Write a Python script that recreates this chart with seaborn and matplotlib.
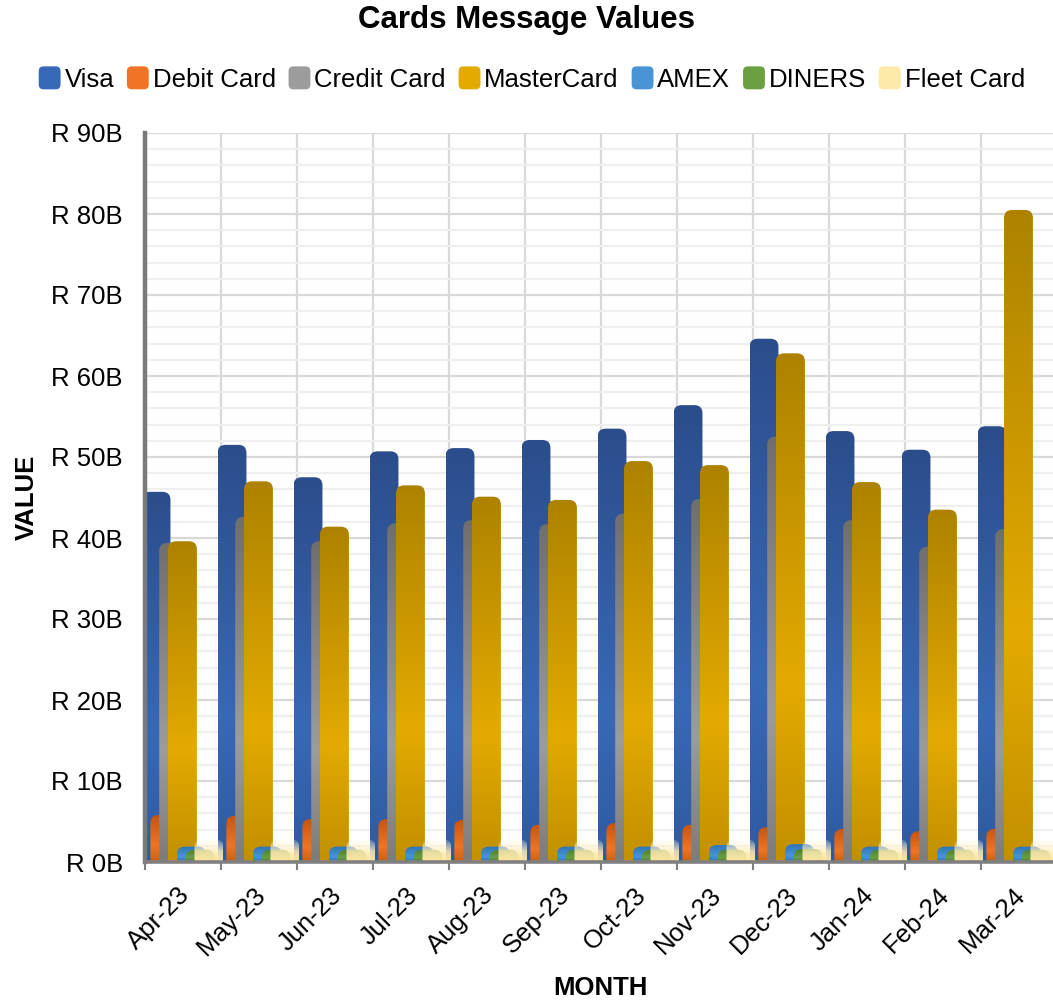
import numpy as np
import matplotlib
matplotlib.use("Agg")
import matplotlib.pyplot as plt
import matplotlib.transforms as mtransforms
import seaborn as sns
from matplotlib.patches import FancyBboxPatch, Patch
from matplotlib.colors import LinearSegmentedColormap
from matplotlib.legend_handler import HandlerPatch
from matplotlib.ticker import MultipleLocator

# data (billions of rand)
months = ["Apr-23", "May-23", "Jun-23", "Jul-23", "Aug-23", "Sep-23",
          "Oct-23", "Nov-23", "Dec-23", "Jan-24", "Feb-24", "Mar-24"]
visa = [45.7, 51.5, 47.5, 50.7, 51.1, 52.1, 53.5, 56.4, 64.6, 53.2, 50.9, 53.8]
debit = [5.8, 5.7, 5.3, 5.3, 5.2, 4.6, 4.8, 4.6, 4.3, 4.1, 3.8, 4.1]
credit = [39.4, 42.6, 39.6, 41.8, 42.2, 41.7, 43.0, 44.8, 52.5, 42.2, 38.9, 41.1]
mastercard = [39.6, 47.0, 41.4, 46.5, 45.1, 44.7, 49.5, 49.0, 62.8, 46.9, 43.5, 80.5]
amex = [1.9, 1.9, 1.9, 1.9, 1.9, 1.9, 1.9, 2.1, 2.2, 1.9, 1.9, 1.9]
diners = [1.5, 1.5, 1.5, 1.5, 1.5, 1.5, 1.5, 1.5, 1.6, 1.5, 1.5, 1.5]
fleet = [2.8, 2.8, 2.8, 2.8, 2.8, 2.8, 2.8, 2.8, 2.8, 2.8, 2.8, 2.8]
y_ticks = [0, 10, 20, 30, 40, 50, 60, 70, 80, 90]
y_labels = ["R 0B", "R 10B", "R 20B", "R 30B", "R 40B",
            "R 50B", "R 60B", "R 70B", "R 80B", "R 90B"]

series = [
    ("Visa", visa, ["#2f5aa3", "#3868b8", "#2c4d8b"]),
    ("Debit Card", debit, ["#c9600f", "#f07424", "#c4550f"]),
    ("Credit Card", credit, ["#7c7c7c", "#9c9c9c", "#6f6f6f"]),
    ("MasterCard", mastercard, ["#c29000", "#e3aa00", "#ae8200"]),
    ("AMEX", amex, ["#2e74b5", "#4a94d6", "#2e74b5"]),
    ("DINERS", diners, ["#4e7c2f", "#6aa042", "#4e7c2f"]),
    ("Fleet Card", fleet, None),
]

sns.set_theme(style="white")
plt.rcParams["font.family"] = ["Liberation Sans", "DejaVu Sans"]
plt.rcParams.update({"text.color": "black", "axes.labelcolor": "black",
                     "xtick.color": "black", "ytick.color": "black"})

W, H = 1053, 1001
fig = plt.figure(figsize=(W / 100, H / 100), dpi=100)
ax = fig.add_axes([145 / W, 139 / H, 912 / W, 729 / H])
ax.set_xlim(-0.5, 11.5)
ax.set_ylim(0, 90)

# pixel scale of the data units
px_x = 912 / 12
px_y = 729 / 90
rx = 8 / px_x
ry = 8 / px_y

bar_w = 0.38
step = 0.116
first = -0.545 + bar_w / 2
pos = np.arange(len(months))

for j, (name, vals, cols) in enumerate(series):
    n0 = len(ax.patches)
    sns.barplot(x=pos + first + step * j, y=vals, native_scale=True,
                width=bar_w, color="#cccccc", errorbar=None, ax=ax)
    new = list(ax.patches[n0:])
    if cols is None:
        cmap = LinearSegmentedColormap.from_list(
            name, [(0, (1, 0.90, 0.60, 1.0)), (0.45, (1, 0.93, 0.72, 0.85)),
                   (1, (1, 0.98, 0.92, 0.15))])
    else:
        cmap = LinearSegmentedColormap.from_list(
            name, [(0, cols[0]), (0.35, cols[1]), (1, cols[2])])
    for p in new:
        x0, w, h = p.get_x(), p.get_width(), p.get_height()
        p.remove()
        clip = FancyBboxPatch((x0, -ry), w, h + ry,
                              boxstyle=f"round,pad=0,rounding_size={rx}",
                              mutation_aspect=ry / rx, transform=ax.transData,
                              facecolor="none", edgecolor="none")
        ax.add_patch(clip)
        im = ax.imshow(np.linspace(0, 1, 256).reshape(-1, 1), cmap=cmap,
                       origin="lower", extent=(x0, x0 + w, 0, h),
                       aspect="auto", interpolation="bilinear", zorder=3 + j)
        im.set_clip_path(clip)

ax.set_xlim(-0.5, 11.5)
ax.set_ylim(0, 90)

# grid
ax.set_yticks(y_ticks)
ax.set_yticklabels(y_labels)
ax.yaxis.set_minor_locator(MultipleLocator(2))
ax.set_xticks(np.arange(-0.5, 12, 1))
ax.set_xticklabels([])
ax.set_xticks(pos, months, minor=True)
ax.grid(which="major", axis="both", color="#d9d9d9", lw=1.6, zorder=0)
ax.grid(which="minor", axis="y", color="#efefef", lw=1.6, zorder=0)
ax.grid(which="minor", axis="x", visible=False)
ax.set_axisbelow(True)

for s in ["top", "right"]:
    ax.spines[s].set_visible(False)
ax.spines["left"].set_color("#7a7a7a")
ax.spines["left"].set_linewidth(3.2)
ax.spines["bottom"].set_color("#808080")
ax.spines["bottom"].set_linewidth(2.6)
ax.spines["left"].set_zorder(20)
ax.spines["bottom"].set_zorder(20)

ax.tick_params(axis="y", which="both", length=0, pad=16, labelsize=18.5,
               labelcolor="black")
ax.tick_params(axis="x", which="major", length=6, width=1.5, color="#808080",
               direction="out", bottom=True)
ax.tick_params(axis="x", which="minor", length=0, pad=21, labelsize=18.5,
               labelcolor="black", bottom=True)
off = mtransforms.ScaledTranslation(3 / 100, 0, fig.dpi_scale_trans)
for lab in ax.get_xticklabels(minor=True):
    lab.set_rotation(45)
    lab.set_ha("right")
    lab.set_va("center")
    lab.set_rotation_mode("anchor")
    lab.set_transform(lab.get_transform() + off)

# texts
fig.text(0.5, 1 - 20 / H, "Cards Message Values", ha="center", va="center",
         fontsize=22.5, fontweight="bold")
fig.text(600 / W, 1 - 988 / H, "MONTH", ha="center", va="center",
         fontsize=18.5, fontweight="bold")
fig.text(27 / W, 1 - 497 / H, "VALUE", ha="center", va="center",
         rotation=90, fontsize=18.5, fontweight="bold")


def rounded(legend, orig_handle, xdescent, ydescent, width, height, fontsize):
    return FancyBboxPatch((-xdescent, -ydescent), width, height,
                          boxstyle="round,pad=0,rounding_size=3.5")


handles = [Patch(facecolor=(c[1] if c else "#fde9a8"), edgecolor="none")
           for _, _, c in series]
fig.legend(handles, [s[0] for s in series], loc="center",
           bbox_to_anchor=(0.505, 1 - 79 / H), ncol=7, frameon=False,
           fontsize=18.5, handlelength=0.85, handleheight=1.0,
           handletextpad=0.15, columnspacing=0.5, borderaxespad=0,
           handler_map={Patch: HandlerPatch(patch_func=rounded)})

fig.savefig("out.png", dpi=100)
